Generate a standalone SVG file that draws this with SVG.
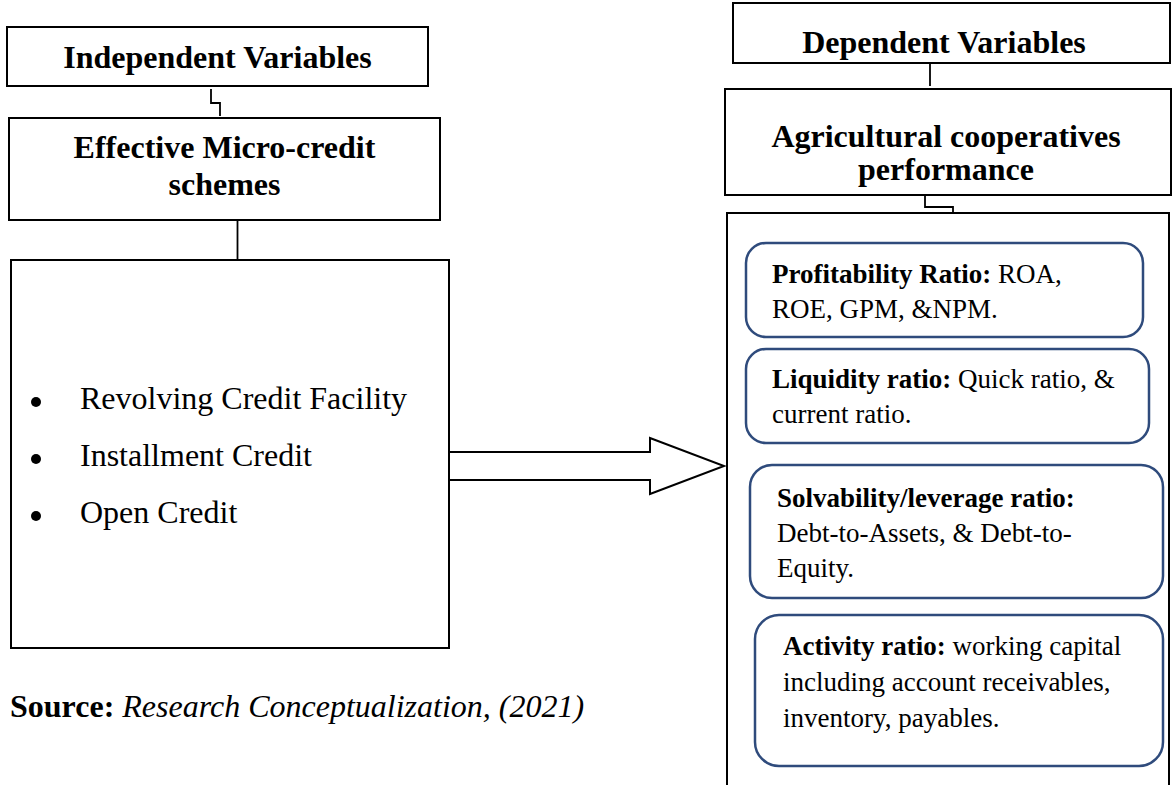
<svg xmlns="http://www.w3.org/2000/svg" width="1173" height="785" viewBox="0 0 1173 785">
<style>
.box{fill:#fff;stroke:#000;stroke-width:2}
.rbox{fill:#fff;stroke:#2f4b7c;stroke-width:2.5}
.conn{fill:none;stroke:#000;stroke-width:1.8}
text{font-family:"Liberation Serif","Times New Roman",serif;fill:#000}
.title{font-size:32px;font-weight:bold;text-anchor:middle}
.item{font-size:32px}
.small{font-size:27px}
.b{font-weight:bold}
</style>
<rect width="1173" height="785" fill="#fff"/>
<g id="connectors">
<polyline class="conn" points="211,89 211,103 220,103 220,116"/>
<line class="conn" x1="237.5" y1="213" x2="237.5" y2="260"/>
<line class="conn" x1="930" y1="64" x2="930" y2="86"/>
<polyline class="conn" points="925,196 925,207 953,207 953,213"/>
</g>
<g id="independent-variables">
<rect class="box" x="7" y="27" width="421" height="59"/>
<text class="title" x="217.5" y="68">Independent Variables</text>
</g>
<g id="effective-microcredit">
<rect class="box" x="9" y="118" width="431" height="102"/>
<text class="title" x="224.5" y="158">Effective Micro-credit</text>
<text class="title" x="224.5" y="195">schemes</text>
</g>
<g id="credit-types">
<rect class="box" x="11" y="260" width="438" height="388"/>
<circle cx="36" cy="402" r="5"/>
<circle cx="36" cy="459" r="5"/>
<circle cx="36" cy="516" r="5"/>
<text class="item" x="80" y="409">Revolving Credit Facility</text>
<text class="item" x="80" y="466">Installment Credit</text>
<text class="item" x="80" y="523">Open Credit</text>
</g>
<g id="arrow">
<polygon class="box" points="449,452 650,452 650,438 724,466 650,494 650,480 449,480"/>
</g>
<g id="dependent-variables">
<rect class="box" x="733" y="3" width="437" height="60"/>
<text class="title" x="944" y="53">Dependent Variables</text>
</g>
<g id="agricultural-performance">
<rect class="box" x="725" y="89" width="446" height="106"/>
<text class="title" x="946" y="147">Agricultural cooperatives</text>
<text class="title" x="946" y="180">performance</text>
</g>
<g id="performance-measures">
<rect class="box" x="727" y="213" width="442" height="590"/>
</g>
<g id="profitability">
<rect class="rbox" x="746" y="243" width="397" height="94" rx="20"/>
<text class="small" x="772" y="283"><tspan class="b">Profitability Ratio:</tspan> ROA,</text>
<text class="small" x="772" y="318">ROE, GPM, &amp;NPM.</text>
</g>
<g id="liquidity">
<rect class="rbox" x="746" y="349" width="403" height="94" rx="20"/>
<text class="small" x="772" y="388"><tspan class="b">Liquidity ratio:</tspan> Quick ratio, &amp;</text>
<text class="small" x="772" y="423">current ratio.</text>
</g>
<g id="solvability">
<rect class="rbox" x="750" y="465" width="413" height="133" rx="22"/>
<text class="small b" x="777" y="507">Solvability/leverage ratio:</text>
<text class="small" x="777" y="542">Debt-to-Assets, &amp; Debt-to-</text>
<text class="small" x="777" y="577">Equity.</text>
</g>
<g id="activity">
<rect class="rbox" x="755" y="615" width="408" height="151" rx="24"/>
<text class="small" x="783" y="655"><tspan class="b">Activity ratio:</tspan> working capital</text>
<text class="small" x="783" y="691">including account receivables,</text>
<text class="small" x="783" y="727">inventory, payables.</text>
</g>
<g id="source">
<text class="item" x="10" y="717"><tspan class="b">Source:</tspan> <tspan font-style="italic">Research Conceptualization, (2021)</tspan></text>
</g>
</svg>
